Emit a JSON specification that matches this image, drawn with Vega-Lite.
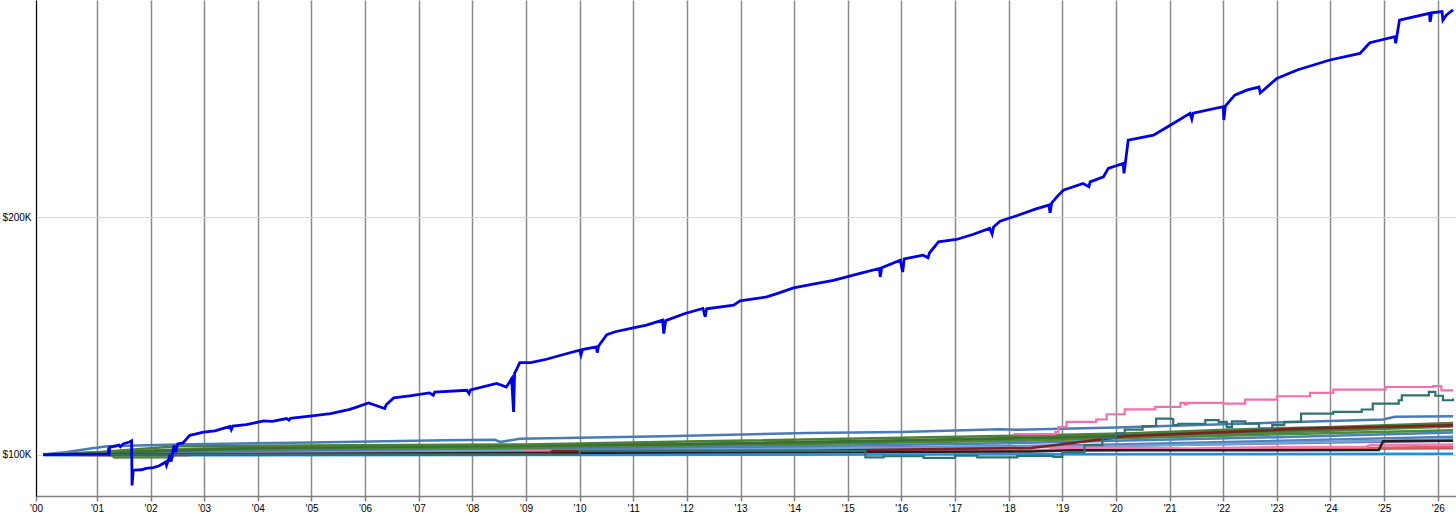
{
  "$schema": "https://vega.github.io/schema/vega-lite/v6.json",
  "width": 1420,
  "height": 496,
  "padding": {"left": 36, "top": 0, "right": 0, "bottom": 27},
  "autosize": {"type": "none"},
  "background": "white",
  "config": {"view": {"stroke": null}, "font": "Liberation Sans"},
  "datasets": {
    "main": [
      {"d":"2000-01-01","v":100000},{"d":"2001-03-20","v":100300},{"d":"2001-03-22","v":103000},{"d":"2001-03-25","v":99500},{"d":"2001-03-28","v":103000},
      {"d":"2001-06-01","v":104000},{"d":"2001-06-10","v":103300},{"d":"2001-07-01","v":104600},
      {"d":"2001-08-10","v":105300},{"d":"2001-08-25","v":105800},{"d":"2001-08-28","v":87000},{"d":"2001-09-05","v":93400},{"d":"2001-11-01","v":93600},{"d":"2001-12-01","v":94200},{"d":"2002-01-20","v":94500},
      {"d":"2002-03-01","v":95300},{"d":"2002-04-15","v":96900},{"d":"2002-04-20","v":95500},{"d":"2002-05-10","v":99000},{"d":"2002-05-20","v":97000},{"d":"2002-06-10","v":103900},
      {"d":"2002-06-20","v":101000},{"d":"2002-07-05","v":104500},{"d":"2002-08-10","v":104900},{"d":"2002-09-25","v":108100},{"d":"2002-11-01","v":108600},{"d":"2002-12-28","v":109500},{"d":"2003-03-15","v":110000},{"d":"2003-06-25","v":111900},
      {"d":"2003-07-05","v":110500},{"d":"2003-07-15","v":112000},{"d":"2003-10-15","v":112600},{"d":"2004-02-10","v":114200},{"d":"2004-04-10","v":114000},{"d":"2004-07-15","v":115200},{"d":"2004-08-01","v":114500},{"d":"2004-08-10","v":115300},{"d":"2005-01-05","v":116300},
      {"d":"2005-05-10","v":117300},{"d":"2005-09-20","v":119100},{"d":"2006-01-25","v":121800},{"d":"2006-05-15","v":119400},{"d":"2006-05-25","v":121000},{"d":"2006-07-15","v":123900},
      {"d":"2006-11-01","v":124800},{"d":"2007-03-15","v":126000},{"d":"2007-04-10","v":125000},{"d":"2007-04-20","v":126300},{"d":"2007-11-25","v":127100},{"d":"2007-12-10","v":125700},{"d":"2007-12-20","v":127300},{"d":"2008-06-15","v":130000},
      {"d":"2008-08-20","v":128500},{"d":"2008-09-25","v":132000},{"d":"2008-10-08","v":118000},{"d":"2008-10-15","v":134200},{"d":"2008-11-20","v":138800},
      {"d":"2009-02-01","v":138800},{"d":"2009-05-20","v":140200},{"d":"2009-09-01","v":142000},{"d":"2010-01-01","v":144000},{"d":"2010-01-10","v":142000},{"d":"2010-01-20","v":144300},{"d":"2010-04-25","v":145400},
      {"d":"2010-05-01","v":143000},{"d":"2010-05-10","v":145800},{"d":"2010-07-05","v":150600},{"d":"2010-09-01","v":151800},{"d":"2011-01-01","v":153400},{"d":"2011-04-01","v":154600},{"d":"2011-07-20","v":156700},{"d":"2011-07-28","v":151000},
      {"d":"2011-08-10","v":156500},{"d":"2011-12-20","v":159500},{"d":"2012-04-20","v":161600},{"d":"2012-05-05","v":158100},{"d":"2012-05-15","v":161500},
      {"d":"2012-11-15","v":163000},{"d":"2012-12-28","v":164800},{"d":"2013-06-28","v":166500},{"d":"2013-09-01","v":167800},{"d":"2013-12-28","v":170300},{"d":"2014-05-01","v":171800},{"d":"2014-09-25","v":173500},
      {"d":"2014-12-25","v":174900},{"d":"2015-04-01","v":176500},{"d":"2015-08-05","v":178500},{"d":"2015-08-10","v":174900},{"d":"2015-08-20","v":178800},{"d":"2015-12-25","v":182000},
      {"d":"2016-01-10","v":177000},{"d":"2016-01-20","v":182500},{"d":"2016-05-28","v":184100},{"d":"2016-07-01","v":183000},{"d":"2016-07-10","v":185000},{"d":"2016-09-10","v":189700},{"d":"2017-01-10","v":190700},
      {"d":"2017-05-01","v":192800},{"d":"2017-08-25","v":195400},{"d":"2017-09-10","v":193000},{"d":"2017-09-20","v":196000},{"d":"2017-11-03","v":198400},{"d":"2018-03-01","v":200800},{"d":"2018-07-01","v":203500},{"d":"2018-10-01","v":205200},{"d":"2018-10-10","v":202000},{"d":"2018-10-20","v":206000},{"d":"2018-11-25","v":208700},
      {"d":"2019-01-08","v":211500},{"d":"2019-05-22","v":214300},{"d":"2019-07-01","v":213000},{"d":"2019-07-10","v":215000},{"d":"2019-10-08","v":217100},{"d":"2019-11-10","v":220700},{"d":"2020-02-20","v":222800},
      {"d":"2020-02-25","v":218600},{"d":"2020-03-25","v":232600},{"d":"2020-09-13","v":234700},{"d":"2021-01-05","v":238900},{"d":"2021-05-20","v":243900},
      {"d":"2021-06-01","v":241500},{"d":"2021-06-10","v":244000},{"d":"2022-01-01","v":246700},{"d":"2022-01-05","v":241100},{"d":"2022-01-15","v":247000},
      {"d":"2022-03-20","v":251600},{"d":"2022-06-10","v":253700},{"d":"2022-09-01","v":255000},{"d":"2022-09-10","v":252500},{"d":"2023-01-01","v":258600},
      {"d":"2023-05-20","v":262200},{"d":"2023-12-28","v":266400},{"d":"2024-07-20","v":269200},{"d":"2024-09-25","v":273700},{"d":"2025-03-15","v":276200},
      {"d":"2025-03-20","v":273400},{"d":"2025-04-15","v":283200},{"d":"2025-11-05","v":286100},{"d":"2025-11-10","v":282500},{"d":"2025-11-20","v":286300},
      {"d":"2026-01-30","v":286800},{"d":"2026-02-05","v":283200},{"d":"2026-03-01","v":285400},{"d":"2026-04-15","v":287500}
    ],
    "others": [
      {"s":"bblue","d":"2000-01-01","v":99700},{"s":"bblue","d":"2010-01-01","v":99800},{"s":"bblue","d":"2018-01-01","v":100100},{"s":"bblue","d":"2026-04-15","v":100400},

      {"s":"red1","d":"2000-01-01","v":100000},{"s":"red1","d":"2001-06-01","v":99600},{"s":"red1","d":"2002-09-01","v":99700},{"s":"red1","d":"2003-03-01","v":100700},{"s":"red1","d":"2009-01-01","v":101000},{"s":"red1","d":"2014-01-01","v":101300},{"s":"red1","d":"2018-01-01","v":101600},{"s":"red1","d":"2022-01-01","v":102200},{"s":"red1","d":"2026-04-15","v":102700},

      {"s":"red2","d":"2000-01-01","v":100000},{"s":"red2","d":"2002-01-01","v":100800},{"s":"red2","d":"2006-01-01","v":101000},{"s":"red2","d":"2012-01-01","v":101200},{"s":"red2","d":"2019-01-01","v":101900},{"s":"red2","d":"2024-01-01","v":102600},{"s":"red2","d":"2026-04-15","v":103300},

      {"s":"purple","d":"2000-01-01","v":100000},{"s":"purple","d":"2002-07-01","v":101400},{"s":"purple","d":"2009-01-01","v":102300},{"s":"purple","d":"2015-01-01","v":102900},{"s":"purple","d":"2018-01-01","v":103500},{"s":"purple","d":"2022-01-01","v":104400},{"s":"purple","d":"2026-04-15","v":105900},

      {"s":"mblue2","d":"2000-01-01","v":100000},{"s":"mblue2","d":"2008-01-01","v":101500},{"s":"mblue2","d":"2015-01-01","v":102400},{"s":"mblue2","d":"2020-01-01","v":104200},{"s":"mblue2","d":"2026-04-15","v":107500},

      {"s":"lblue","d":"2000-01-01","v":100000},{"s":"lblue","d":"2010-01-01","v":101800},{"s":"lblue","d":"2020-01-01","v":103500},{"s":"lblue","d":"2026-04-15","v":106500},

      {"s":"mblue1","d":"2000-01-01","v":100000},{"s":"mblue1","d":"2005-01-01","v":102000},{"s":"mblue1","d":"2010-01-01","v":102900},{"s":"mblue1","d":"2015-01-01","v":103800},{"s":"mblue1","d":"2018-01-01","v":104800},{"s":"mblue1","d":"2020-01-01","v":105800},{"s":"mblue1","d":"2023-01-01","v":107300},{"s":"mblue1","d":"2026-04-15","v":109300},

      {"s":"green3","d":"2000-01-01","v":100000},{"s":"green3","d":"2001-04-01","v":100000},{"s":"green3","d":"2001-05-01","v":98800},{"s":"green3","d":"2002-06-01","v":98900},{"s":"green3","d":"2002-07-01","v":102000},{"s":"green3","d":"2009-01-01","v":102900},{"s":"green3","d":"2017-11-01","v":105700},{"s":"green3","d":"2026-04-15","v":110300},

      {"s":"green4","d":"2000-01-01","v":100000},{"s":"green4","d":"2005-01-01","v":103200},{"s":"green4","d":"2015-01-01","v":105000},{"s":"green4","d":"2026-04-15","v":112300},

      {"s":"green2","d":"2000-01-01","v":100000},{"s":"green2","d":"2003-01-01","v":102600},{"s":"green2","d":"2009-01-01","v":103400},{"s":"green2","d":"2017-11-01","v":106600},{"s":"green2","d":"2022-01-01","v":108600},{"s":"green2","d":"2026-04-15","v":111800},

      {"s":"olive","d":"2000-01-01","v":100000},{"s":"olive","d":"2004-01-01","v":102800},{"s":"olive","d":"2012-01-01","v":104400},{"s":"olive","d":"2019-01-01","v":107200},{"s":"olive","d":"2026-04-15","v":112500},

      {"s":"green1","d":"2000-01-01","v":100000},{"s":"green1","d":"2001-01-01","v":101000},{"s":"green1","d":"2002-07-01","v":103500},{"s":"green1","d":"2009-01-01","v":104300},{"s":"green1","d":"2012-04-01","v":105600},{"s":"green1","d":"2017-11-01","v":107800},{"s":"green1","d":"2020-03-01","v":108900},{"s":"green1","d":"2022-01-25","v":110500},{"s":"green1","d":"2024-01-20","v":111600},{"s":"green1","d":"2026-04-15","v":113300},

      {"s":"pink2","d":"2000-01-01","v":100000},{"s":"pink2","d":"2008-11-01","v":100500},{"s":"pink2","d":"2009-01-01","v":101400},{"s":"pink2","d":"2016-01-01","v":101700},{"s":"pink2","d":"2018-10-01","v":102000},{"s":"pink2","d":"2019-01-01","v":103000},{"s":"pink2","d":"2021-06-01","v":102600},{"s":"pink2","d":"2023-01-01","v":103100},{"s":"pink2","d":"2024-09-01","v":103300},{"s":"pink2","d":"2024-10-01","v":104000},{"s":"pink2","d":"2026-04-15","v":104300},

      {"s":"black","d":"2000-01-01","v":100000},{"s":"black","d":"2018-06-01","v":101300},{"s":"black","d":"2019-04-01","v":101800},{"s":"black","d":"2024-11-25","v":101900},{"s":"black","d":"2024-12-25","v":105600},{"s":"black","d":"2026-04-15","v":105800},

      {"s":"maroon","d":"2000-01-01","v":100000},{"s":"maroon","d":"2009-06-01","v":100300},{"s":"maroon","d":"2009-07-01","v":101500},{"s":"maroon","d":"2014-05-01","v":101600},{"s":"maroon","d":"2018-06-01","v":102800},{"s":"maroon","d":"2019-06-01","v":105500},{"s":"maroon","d":"2020-03-01","v":107700},{"s":"maroon","d":"2022-01-25","v":109500},{"s":"maroon","d":"2023-06-15","v":111000},{"s":"maroon","d":"2026-04-15","v":112400},

      {"s":"steel","d":"2000-01-01","v":100000},{"s":"steel","d":"2000-06-01","v":101000},{"s":"steel","d":"2000-12-01","v":102700},{"s":"steel","d":"2001-03-15","v":103500},{"s":"steel","d":"2002-07-01","v":104300},{"s":"steel","d":"2005-01-01","v":105100},{"s":"steel","d":"2007-07-01","v":106000},{"s":"steel","d":"2008-06-01","v":106200},{"s":"steel","d":"2008-07-10","v":105300},{"s":"steel","d":"2008-11-20","v":106700},{"s":"steel","d":"2011-08-01","v":107700},{"s":"steel","d":"2014-04-01","v":109100},{"s":"steel","d":"2016-01-01","v":109500},{"s":"steel","d":"2017-11-01","v":110700},{"s":"steel","d":"2018-03-01","v":110500},{"s":"steel","d":"2020-01-01","v":111400},{"s":"steel","d":"2023-01-01","v":113500},{"s":"steel","d":"2024-12-25","v":114800},{"s":"steel","d":"2025-03-15","v":115900},{"s":"steel","d":"2026-04-15","v":116200}
    ],
    "steps": [
      {"s":"teal","d":"2000-01-01","v":100000},{"s":"teal","d":"2010-01-01","v":101500},{"s":"teal","d":"2015-04-01","v":101500},{"s":"teal","d":"2015-05-01","v":98800},{"s":"teal","d":"2015-09-01","v":99300},{"s":"teal","d":"2016-06-01","v":98600},{"s":"teal","d":"2017-01-01","v":99500},{"s":"teal","d":"2017-06-01","v":98800},{"s":"teal","d":"2018-03-01","v":99400},{"s":"teal","d":"2018-11-01","v":99000},{"s":"teal","d":"2019-01-01","v":101000},{"s":"teal","d":"2019-06-01","v":104000},{"s":"teal","d":"2019-10-01","v":107000},{"s":"teal","d":"2020-01-01","v":108900},{"s":"teal","d":"2020-03-01","v":110500},{"s":"teal","d":"2020-07-01","v":112000},{"s":"teal","d":"2020-10-01","v":115200},{"s":"teal","d":"2021-01-10","v":115000},{"s":"teal","d":"2021-01-25","v":112400},{"s":"teal","d":"2021-03-01","v":113000},{"s":"teal","d":"2021-09-01","v":114500},{"s":"teal","d":"2021-12-01","v":113800},{"s":"teal","d":"2022-01-25","v":111600},{"s":"teal","d":"2022-03-01","v":114000},{"s":"teal","d":"2022-06-01","v":113000},{"s":"teal","d":"2022-09-01","v":111000},{"s":"teal","d":"2022-12-01","v":112400},{"s":"teal","d":"2023-02-20","v":113800},{"s":"teal","d":"2023-06-15","v":117300},{"s":"teal","d":"2024-01-20","v":118000},{"s":"teal","d":"2024-08-01","v":119000},{"s":"teal","d":"2024-10-15","v":121500},{"s":"teal","d":"2025-04-10","v":122900},{"s":"teal","d":"2025-05-01","v":125000},{"s":"teal","d":"2025-11-01","v":126400},{"s":"teal","d":"2025-12-15","v":124800},{"s":"teal","d":"2026-02-05","v":122900},{"s":"teal","d":"2026-04-15","v":123600},

      {"s":"pink","d":"2018-02-01","v":108600},{"s":"pink","d":"2018-11-15","v":109500},{"s":"pink","d":"2018-12-05","v":111600},{"s":"pink","d":"2019-01-30","v":113800},{"s":"pink","d":"2019-08-20","v":114800},{"s":"pink","d":"2019-10-30","v":117000},{"s":"pink","d":"2020-03-01","v":119100},{"s":"pink","d":"2020-09-25","v":120100},{"s":"pink","d":"2021-03-15","v":121800},{"s":"pink","d":"2021-04-15","v":121200},{"s":"pink","d":"2021-05-01","v":121800},{"s":"pink","d":"2022-01-01","v":121500},{"s":"pink","d":"2022-05-30","v":123200},{"s":"pink","d":"2023-01-01","v":124600},{"s":"pink","d":"2023-08-15","v":126000},{"s":"pink","d":"2024-01-20","v":127400},{"s":"pink","d":"2024-12-25","v":127400},{"s":"pink","d":"2025-01-10","v":128500},{"s":"pink","d":"2025-12-01","v":128900},{"s":"pink","d":"2026-01-25","v":127100},{"s":"pink","d":"2026-04-15","v":127100}
    ]
  },
  "encoding": {
    "x": {
      "field": "d", "type": "temporal",
      "scale": {"type": "utc", "domain": [{"year": 1999, "month": 11, "date": 13, "utc": true}, {"year": 2026, "month": 5, "date": 5, "utc": true}]},
      "axis": {
        "title": null,
        "values": [
          {"year":1999,"month":11,"date":13,"utc":true},
          {"year":2001,"utc":true},{"year":2002,"utc":true},{"year":2003,"utc":true},{"year":2004,"utc":true},{"year":2005,"utc":true},
          {"year":2006,"utc":true},{"year":2007,"utc":true},{"year":2008,"utc":true},{"year":2009,"utc":true},{"year":2010,"utc":true},
          {"year":2011,"utc":true},{"year":2012,"utc":true},{"year":2013,"utc":true},{"year":2014,"utc":true},{"year":2015,"utc":true},
          {"year":2016,"utc":true},{"year":2017,"utc":true},{"year":2018,"utc":true},{"year":2019,"utc":true},{"year":2020,"utc":true},
          {"year":2021,"utc":true},{"year":2022,"utc":true},{"year":2023,"utc":true},{"year":2024,"utc":true},{"year":2025,"utc":true},{"year":2026,"utc":true}
        ],
        "labelExpr": "utcFormat(datum.value, '%Y') == '1999' ? \"'00\" : \"'\" + utcFormat(datum.value, '%y')",
        "labelFont": "Liberation Sans", "labelFontSize": 10, "labelColor": "#000000",
        "labelPadding": 2, "labelFlush": false, "labelOverlap": false,
        "tickSize": 5, "tickColor": "#808080", "tickWidth": 1.5,
        "domainColor": "#808080", "domainWidth": 1.5,
        "grid": true, "gridColor": "#8a8a8a", "gridWidth": 1.5
      }
    },
    "y": {
      "field": "v", "type": "quantitative",
      "scale": {"domain": [82530, 291700], "nice": false, "zero": false},
      "axis": {
        "title": null, "values": [100000, 200000],
        "labelExpr": "'$' + format(datum.value / 1000, 'd') + 'K'",
        "labelFont": "Liberation Sans", "labelFontSize": 10, "labelColor": "#000000",
        "labelPadding": 5, "ticks": false,
        "domainColor": "#000000", "domainWidth": 1,
        "grid": true, "gridColor": "#d9d9d9", "gridWidth": 1
      }
    },
    "color": {
      "field": "s", "type": "nominal", "legend": null,
      "scale": {
        "domain": ["bblue","red1","red2","purple","mblue2","lblue","mblue1","green3","green4","green2","olive","green1","pink2","black","maroon","steel","teal","pink"],
        "range": ["#1e8fe8","#c0504d","#d8605e","#8a6aa5","#4f81bd","#6fa3d8","#4a7fc0","#4b8a3c","#45803a","#4f8540","#3c6e2f","#4a7f3a","#f27bb4","#202020","#7f1f1f","#4a7bb7","#2f7371","#f56fb0"]
      }
    }
  },
  "layer": [
    {
      "data": {"name": "others"},
      "mark": {"type": "line", "strokeWidth": 2.5, "clip": true}
    },
    {
      "data": {"name": "steps"},
      "mark": {"type": "line", "strokeWidth": 2.2, "interpolate": "step-after", "clip": true}
    },
    {
      "data": {"name": "main"},
      "mark": {"type": "line", "strokeWidth": 2.8, "color": "#0000e6", "clip": true},
      "encoding": {"color": {"value": "#0000e6"}}
    }
  ]
}
